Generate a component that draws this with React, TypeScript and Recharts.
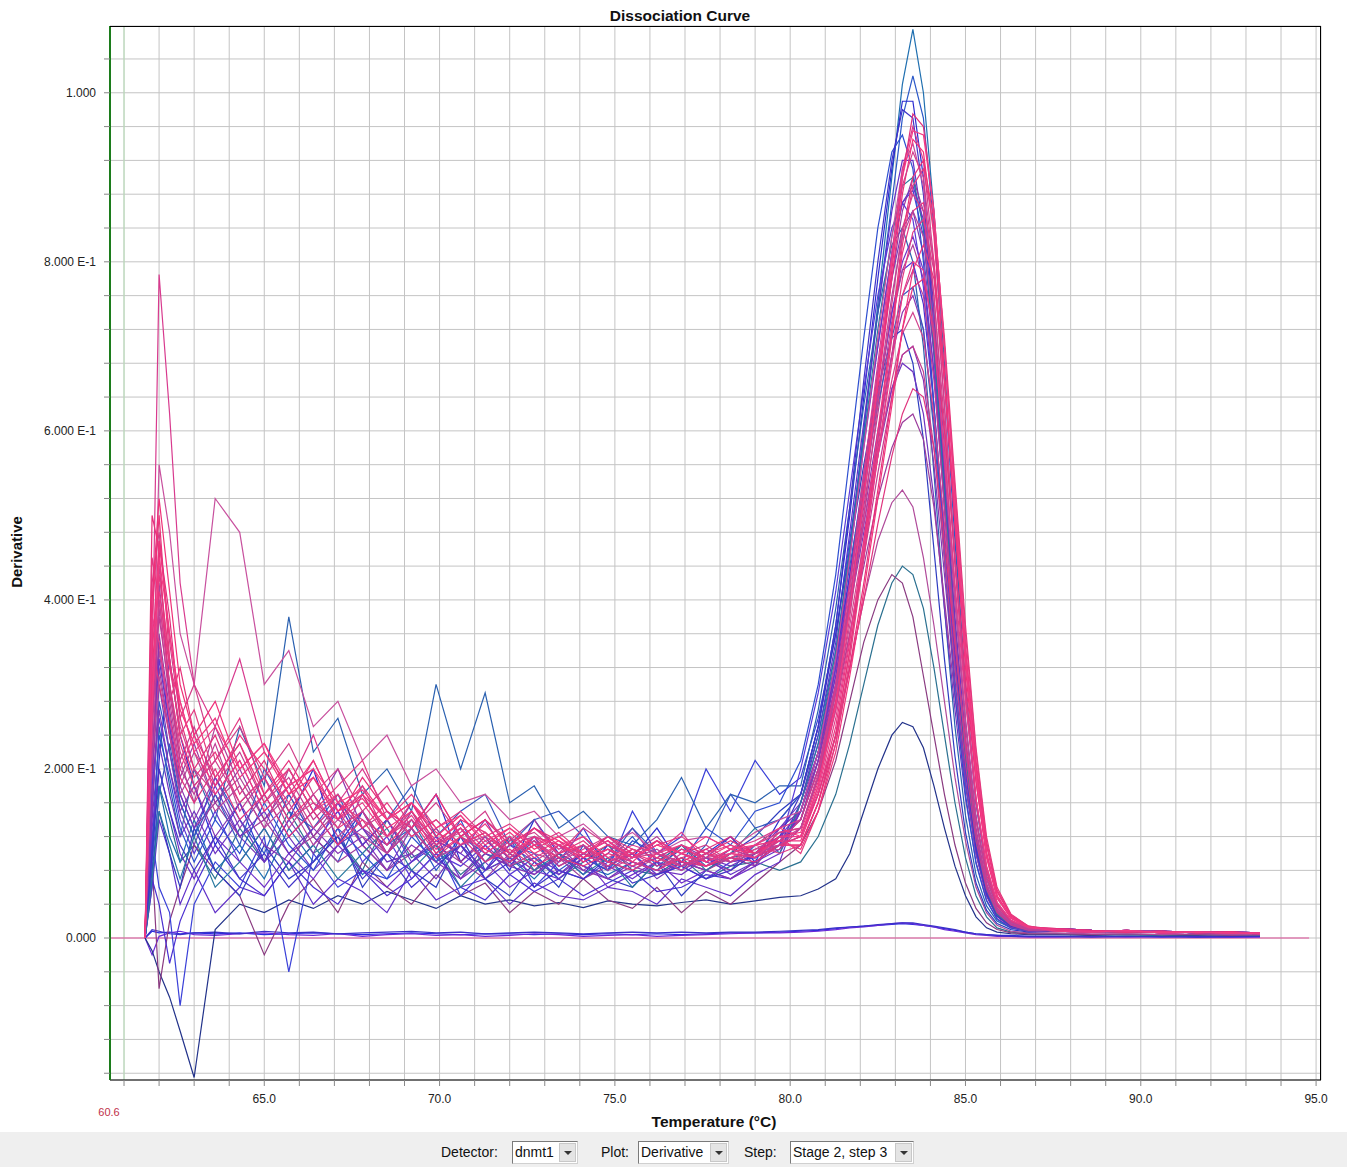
import { LineChart, Line, XAxis, YAxis, CartesianGrid, ReferenceLine } from 'recharts'

// temperature readings (°C)
const temps = [61.6, 61.8, 62.0, 62.3, 62.6, 63.0, 63.6, 64.3, 65.0, 65.7, 66.4, 67.1, 67.8, 68.5, 69.2, 69.9, 70.6, 71.3, 72.0, 72.7, 73.4, 74.1, 74.8, 75.5, 76.2, 76.9, 77.6, 78.3, 79.0, 79.7,
  80.3, 80.8, 81.3, 81.7, 82.1, 82.5, 82.9, 83.2, 83.5, 83.8, 84.1, 84.4, 84.7, 85.0, 85.3, 85.6, 85.9, 86.3, 86.8,
  87.6, 88.6, 89.6, 90.6, 91.6, 92.6, 93.4]

// derivative per well, x1000
const w01 = [0,8,6,7,5,6,5,6,4,5,6,5,4,5,6,5,4,5,5,4,5,4,5,4,5,4,5,6,6,7, 8,9,11,13,14,15,16,17,16,15,13,11,9,7,5,4,3,3,2, 2,2,2,1,2,1,2]
const w02 = [0,-20,2,6,8,4,3,5,6,4,3,5,2,4,5,3,4,2,3,5,4,2,3,4,2,3,4,5,6,6, 7,8,10,12,13,15,17,18,17,15,13,10,8,6,4,3,2,2,1, 1,2,1,2,1,1,1]
const w03 = [0,10,8,5,4,6,7,5,8,6,7,5,6,7,8,6,7,5,6,7,6,5,6,7,6,7,6,7,7,8, 9,10,12,13,14,16,17,18,18,16,14,12,10,7,5,4,3,2,2, 2,1,2,2,1,2,2]
const w04 = [0,-15,-40,-70,-110,-165,10,40,30,45,35,50,40,55,45,35,50,40,45,38,42,36,44,40,38,42,45,40,44,48, 50,58,70,100,150,200,240,255,250,225,180,130,85,50,25,12,7,5,4, 4,3,4,3,3,4,3]
const w05 = [0,120,180,140,90,110,70,130,90,150,100,120,80,140,95,110,75,100,85,95,70,90,110,80,75,95,70,85,90,80, 90,120,170,230,300,370,420,440,430,390,320,240,160,95,50,25,12,7,5, 5,4,4,3,4,3,3]
const w06 = [0,90,-60,20,60,110,80,50,-20,40,70,30,90,60,40,75,50,65,30,55,40,70,45,35,60,30,55,40,65,90, 110,150,210,280,350,400,430,420,380,310,240,170,110,65,35,18,10,6,5, 5,4,5,4,4,3,4]
const w07 = [0,200,340,250,180,220,160,190,140,170,120,150,110,140,100,130,90,115,95,110,85,100,90,80,95,85,100,90,95,110, 120,170,240,320,400,470,515,530,510,450,370,280,190,115,60,30,15,8,6, 6,5,5,4,5,4,4]
const w08 = [0,60,180,120,90,140,80,110,70,130,90,120,75,100,140,90,110,80,95,70,100,85,75,90,80,110,85,95,100,120, 140,210,320,450,600,750,900,1010,1075,1000,860,680,480,300,160,80,40,20,12, 9,8,7,8,6,7,5]
const w09 = [0,150,280,220,160,120,190,140,100,170,120,90,150,110,130,80,120,100,90,115,80,100,90,120,85,105,95,80,110,130, 150,220,330,460,600,740,870,970,1020,970,840,660,470,290,160,80,40,20,12, 10,8,8,7,7,6,6]
const w10 = [0,90,210,330,240,180,110,160,90,140,200,110,150,100,130,170,90,120,80,140,100,75,110,95,130,85,100,120,90,140, 170,250,370,500,640,780,910,990,990,900,740,550,370,220,115,55,28,15,10, 8,7,9,6,7,6,5]
const w11 = [0,60,140,100,40,80,30,60,50,90,40,70,55,30,80,45,60,70,40,65,50,45,60,55,40,70,60,50,75,90, 160,240,350,480,610,740,860,920,920,840,690,510,340,200,105,52,26,14,9, 11,9,8,8,7,7,6]
const w12 = [0,120,60,30,-80,40,90,60,120,-40,100,60,80,70,90,110,50,80,120,60,90,130,80,150,100,120,200,150,210,170, 190,260,360,470,590,700,810,870,885,830,700,540,370,225,120,60,30,16,10, 9,8,7,8,6,7,5]
const w13 = [0,100,250,180,120,200,140,250,180,380,220,260,170,200,150,300,200,290,160,180,130,150,120,110,140,190,130,170,160,180, 180,270,390,510,630,740,820,840,800,700,550,390,250,145,75,38,20,12,8, 10,8,8,7,7,6,6]
const w14 = [0,150,300,220,150,110,170,120,90,140,100,160,110,80,130,95,70,110,85,120,75,95,80,100,70,90,85,105,95,120, 150,220,320,430,550,670,780,840,860,810,690,530,370,230,125,62,31,16,10, 8,7,9,6,7,6,5]
const w15 = [0,70,40,-30,20,60,110,70,50,90,60,40,80,50,70,100,60,45,75,55,70,50,65,80,55,60,75,70,90,110, 160,230,330,430,540,640,740,790,800,750,630,480,330,205,110,55,28,14,9, 11,9,8,8,7,7,6]
const w16 = [0,200,360,270,190,230,160,200,140,180,120,160,130,100,150,110,90,120,100,80,110,90,105,85,95,110,90,80,100,115, 140,210,310,420,540,660,780,860,900,860,740,580,410,260,145,72,36,18,11, 9,8,7,8,6,7,5]
const w17 = [0,220,350,260,180,140,190,130,170,120,150,200,130,110,160,120,100,140,90,120,110,80,100,130,90,110,95,120,85,130, 150,210,300,400,500,600,690,740,760,720,610,470,330,210,115,58,30,15,9, 10,8,8,7,7,6,6]
const w18 = [0,80,150,100,60,130,80,50,110,70,90,130,60,100,80,60,120,70,50,90,60,110,70,60,90,50,80,100,120,150, 170,250,360,460,560,650,710,720,680,590,460,330,215,125,65,33,17,10,7, 8,7,9,6,7,6,5]
const w19 = [0,140,230,170,120,150,100,140,90,120,80,110,130,90,100,70,110,80,95,75,100,85,70,90,80,75,95,85,100,130, 160,220,310,400,490,580,650,680,670,620,520,390,270,165,90,45,23,12,8, 11,9,8,8,7,7,6]
const w20 = [0,180,320,240,170,130,160,120,140,100,120,90,110,80,100,130,90,70,100,80,95,70,85,100,75,90,80,95,85,120, 140,200,280,360,440,520,580,610,620,590,510,400,285,180,100,50,26,13,8, 9,8,7,8,6,7,5]
const w21 = [0,180,420,300,210,160,250,180,130,200,150,110,170,120,150,100,130,90,115,140,95,110,85,100,120,90,80,95,105,120, 140,200,300,400,510,620,730,790,820,780,670,520,370,235,130,65,33,17,10, 10,8,8,7,7,6,6]
const w22 = [0,260,560,480,360,300,520,480,300,340,250,280,210,240,180,200,160,170,140,150,120,135,110,125,100,115,120,105,125,140, 150,220,330,450,580,710,830,910,940,890,760,590,410,255,140,70,35,18,11, 8,7,9,6,7,6,5]
const w23 = [0,260,380,290,210,250,180,220,160,190,140,170,130,150,120,140,110,125,100,115,95,110,90,100,85,95,105,90,100,105, 130,190,270,360,450,550,640,690,700,670,580,450,320,205,115,58,30,15,9, 11,9,8,8,7,7,6]
const w24 = [0,420,480,350,260,300,210,250,190,230,170,200,150,180,130,160,120,140,115,125,100,130,110,95,115,100,110,90,105,110, 120,180,270,380,500,630,750,840,880,860,760,610,440,290,165,85,42,21,12, 9,8,7,8,6,7,5]
const w25 = [0,300,440,320,250,200,170,210,150,180,130,160,140,120,150,110,130,100,120,90,110,100,85,105,95,80,100,90,110,115, 130,190,280,370,470,570,660,715,740,710,620,490,350,225,125,63,32,16,10, 10,8,8,7,7,6,6]
const w26 = [0,320,785,620,420,300,250,330,220,180,240,160,200,150,130,170,120,140,110,130,105,120,95,110,100,125,90,105,115,130, 140,200,300,420,550,680,810,910,960,920,800,630,450,285,160,80,40,20,12, 8,7,9,6,7,6,5]
const w27 = [0,450,400,300,230,180,210,260,170,200,150,180,210,140,170,130,150,120,135,110,125,100,115,95,110,120,100,95,110,100, 110,160,240,340,450,570,690,780,835,850,790,660,500,340,205,110,55,26,13, 11,9,8,8,7,7,6]
const w28 = [0,350,300,240,190,160,200,140,170,120,150,110,140,100,130,95,120,90,105,85,100,115,90,80,100,90,85,95,90,110, 120,170,240,320,400,490,570,620,650,640,580,470,350,235,140,75,38,19,11, 9,8,7,8,6,7,5]
const w29 = [0,500,460,280,320,240,190,230,170,210,160,140,190,150,130,170,120,140,110,130,115,100,120,105,95,110,100,115,100,110, 110,160,230,320,420,530,640,720,770,780,720,600,450,305,185,100,50,24,13, 10,8,8,7,7,6,6]
const w30 = [0,380,500,330,240,190,220,160,190,140,170,130,150,110,140,100,120,105,90,110,95,85,100,90,80,95,85,100,95,110, 110,160,240,340,460,590,720,830,900,920,850,710,540,370,225,120,60,28,14, 8,7,9,6,7,6,5]
const w31 = [0,240,470,380,260,200,240,170,210,150,190,140,170,120,160,110,140,125,100,130,110,95,120,100,115,90,105,120,100,125, 130,190,290,400,530,660,790,900,975,960,860,700,520,340,200,100,50,24,13, 11,9,8,8,7,7,6]
const w32 = [0,400,520,410,300,240,280,200,230,170,210,150,180,140,160,120,145,110,130,105,120,95,110,100,90,105,95,110,100,120, 125,185,280,395,520,650,780,880,945,930,830,670,490,320,185,95,47,23,13, 9,8,7,8,6,7,5]
const w33 = [0,180,260,200,140,100,150,90,130,80,110,150,90,120,70,100,85,110,75,95,80,70,90,100,75,85,70,90,95,110, 200,290,410,530,650,760,840,870,850,770,630,470,320,195,105,52,27,14,9, 9,8,7,8,6,7,5]
const w34 = [0,300,430,330,240,270,190,230,160,200,150,170,130,160,120,140,110,125,95,120,100,110,90,105,95,85,100,110,95,120, 100,150,230,330,450,580,710,820,890,910,840,700,530,360,220,115,57,27,14, 10,8,8,7,7,6,6]
const w35 = [0,110,240,190,130,90,140,100,160,110,80,130,100,70,120,90,140,80,110,100,70,95,80,115,100,90,130,110,150,160, 210,300,430,570,710,840,930,950,910,800,630,450,290,170,88,44,22,12,8, 11,9,8,8,7,7,6]
const w36 = [0,240,390,280,200,170,230,150,190,130,170,120,150,100,140,110,130,90,110,120,85,100,115,90,80,100,90,105,95,115, 140,200,290,390,490,590,690,760,790,760,660,510,360,225,125,62,31,16,10, 8,7,9,6,7,6,5]
const w37 = [0,130,200,150,100,70,120,90,60,100,70,110,80,60,90,120,70,90,60,80,70,95,60,75,90,65,80,70,85,100, 150,220,320,420,530,640,740,800,830,790,670,510,355,220,120,60,30,15,9, 9,8,7,8,6,7,5]
const w38 = [0,360,410,320,280,220,180,240,200,160,210,150,170,140,160,125,110,135,100,120,110,95,105,90,115,100,85,100,110,115, 115,170,250,350,470,600,720,810,860,870,800,660,490,330,195,100,50,24,13, 10,8,8,7,7,6,6]
const w39 = [0,90,170,230,160,120,170,110,200,150,130,170,110,140,180,120,150,170,110,140,150,120,90,130,100,80,110,170,130,140, 170,240,340,440,540,630,710,760,770,720,600,450,305,185,100,50,26,13,8, 11,9,8,8,7,7,6]
const w40 = [0,280,400,300,220,180,210,160,190,140,160,130,180,120,140,110,125,150,100,115,90,105,120,95,100,85,95,100,110,125, 130,195,295,410,540,670,800,890,930,900,790,630,450,290,165,82,41,20,12, 8,7,9,6,7,6,5]
const w41 = [0,160,270,200,150,180,120,160,110,90,130,100,120,80,110,90,70,100,85,75,95,80,70,85,75,90,80,70,90,110, 150,210,300,390,480,570,650,690,700,660,560,430,300,185,100,50,26,13,8, 9,8,7,8,6,7,5]
const w42 = [0,330,470,360,270,230,260,190,220,170,190,150,165,130,150,115,135,105,125,100,115,90,105,95,110,100,90,105,100,115, 105,150,220,310,410,520,630,720,790,820,780,660,500,345,210,110,55,26,13, 10,8,8,7,7,6,6]
const w43 = [0,100,200,150,110,80,120,70,100,60,90,120,70,100,60,85,110,70,90,60,80,70,95,65,75,85,70,80,100,120, 170,250,370,510,660,800,920,980,970,880,720,530,350,205,105,52,26,14,9, 11,9,8,8,7,7,6]
const w44 = [0,210,310,240,170,200,150,180,130,160,110,140,120,100,130,95,110,120,85,100,90,110,80,95,105,85,95,90,100,110, 130,190,290,400,520,640,760,830,860,830,720,560,395,250,140,70,35,18,11, 8,7,9,6,7,6,5]
const w45 = [0,70,150,110,70,120,60,90,130,80,110,70,100,130,80,110,60,90,120,80,100,75,95,60,90,110,80,100,130,100, 160,230,340,460,590,720,830,890,900,840,700,530,360,215,115,57,28,15,9, 9,8,7,8,6,7,5]
const w46 = [0,380,350,260,200,240,170,210,150,180,200,140,160,120,145,105,130,100,120,95,110,120,95,85,100,110,90,100,95,120, 120,175,260,355,460,570,680,760,800,790,710,570,420,280,165,85,42,21,12, 10,8,8,7,7,6,6]
const w47 = [0,200,330,250,170,130,180,120,150,100,130,160,110,140,90,115,100,80,110,90,75,100,85,70,90,80,95,75,90,105, 150,220,330,450,580,700,810,870,890,850,720,550,380,235,125,62,31,16,10, 11,9,8,8,7,7,6]
const w48 = [0,270,450,360,280,220,250,200,230,180,200,160,175,140,160,130,145,115,130,110,120,100,115,95,110,100,120,105,110,130, 120,180,275,390,520,660,800,900,955,950,860,700,515,335,195,98,49,24,13, 8,7,9,6,7,6,5]

// drawing order: controls and blue/purple wells first, pink wells on top
const wells = [w01, w02, w03, w04, w05, w06, w07, w08, w09, w10, w11, w12, w13, w14, w15, w16,
  w17, w18, w19, w20, w21, w33, w35, w37, w39, w41, w43, w45, w47,
  w22, w23, w24, w25, w26, w27, w28, w29, w30, w31, w32, w34, w36, w38, w40, w42, w44, w46, w48]

const wellColors = ['#2b2be0', '#6a28d8', '#3a30c8', '#22328a', '#2a7090', '#8a3a80', '#b04a9a', '#1f6fb0',
  '#2a58c8', '#2b2bd0', '#6030c8', '#3a40d8', '#2a60b0', '#7a3cb8', '#4a2ed0', '#9a3aa0',
  '#8c36b0', '#2e3cc0', '#6e34c0', '#9c3c9c', '#b0409a', '#5a3ad8', '#2d4fd0', '#7030c8', '#3658c0', '#8436b4', '#4034c8', '#2a7aa0', '#6634c8',
  '#c8509e', '#c23c90', '#d0408a', '#d2448e', '#d83a8e', '#e23a84', '#e0347e', '#e6307a', '#e8347a', '#e0307c', '#f03078',
  '#e33b80', '#c03e96', '#ea3580', '#d23f8c', '#f0347c', '#b8449a', '#e83a88', '#f23a84']

const xTicks = [61, 62, 63, 64, 65, 66, 67, 68, 69, 70, 71, 72, 73, 74, 75, 76, 77, 78, 79, 80,
  81, 82, 83, 84, 85, 86, 87, 88, 89, 90, 91, 92, 93, 94, 95]
const xTickLabels: Record<number, string> = { 65: '65.0', 70: '70.0', 75: '75.0', 80: '80.0', 85: '85.0', 90: '90.0', 95: '95.0' }

const yTicks = [-0.16, -0.12, -0.08, -0.04, 0, 0.04, 0.08, 0.12, 0.16, 0.2, 0.24, 0.28, 0.32, 0.36, 0.4, 0.44,
  0.48, 0.52, 0.56, 0.6, 0.64, 0.68, 0.72, 0.76, 0.8, 0.84, 0.88, 0.92, 0.96, 1, 1.04]
const yTickLabels: Record<string, string> = { '0.00': '0.000', '0.20': '2.000 E-1', '0.40': '4.000 E-1', '0.60': '6.000 E-1', '0.80': '8.000 E-1', '1.00': '1.000' }

const rows = temps.map((t, i) => {
  const r: Record<string, number> = { t }
  wells.forEach((w, k) => { r['w' + k] = w[i] / 1000 })
  return r
})

const font = '"Liberation Sans", Arial, sans-serif'

function Dropdown({ left, width, text }: { left: number; width: number; text: string }) {
  return (
    <div style={{ position: 'absolute', left, top: 9, width, height: 23, boxSizing: 'border-box', border: '1px solid #7a7a7a', borderRightColor: '#d0d0d0', borderBottomColor: '#d0d0d0', background: '#fff' }}>
      <span style={{ position: 'absolute', left: 2, top: 2, fontSize: 14, color: '#111', whiteSpace: 'nowrap' }}>{text}</span>
      <div style={{ position: 'absolute', right: 1, top: 1, width: 17, height: 19, background: '#e4e4e4', border: '1px solid #c8c8c8', boxSizing: 'border-box', display: 'flex', alignItems: 'center', justifyContent: 'center' }}>
        <div style={{ width: 0, height: 0, borderLeft: '4px solid transparent', borderRight: '4px solid transparent', borderTop: '4px solid #333' }} />
      </div>
    </div>
  )
}

export default function App() {
  return (
    <div style={{ position: 'relative', width: 1347, height: 1167, background: '#fff', fontFamily: font, overflow: 'hidden' }}>
      <style>{'body{margin:0}'}</style>
      <LineChart width={1347} height={1132} data={rows} margin={{ top: 26, right: 26, left: 10, bottom: 12 }}>
        <CartesianGrid stroke="#c4c4c4" strokeWidth={1} />
        <XAxis type="number" dataKey="t" domain={[60.6, 95.14]} ticks={xTicks} interval={0} allowDataOverflow height={40}
          axisLine={{ stroke: '#000' }} tickLine={{ stroke: '#888' }} tickSize={6} tickMargin={8}
          tick={{ fontSize: 12, fill: '#222', fontFamily: font }} tickFormatter={(v: number) => xTickLabels[v] ?? ''} />
        <YAxis type="number" domain={[-0.168, 1.079]} ticks={yTicks} interval={0} allowDataOverflow width={100}
          axisLine={{ stroke: '#1c7c1c', strokeWidth: 2 }} tickLine={{ stroke: '#888' }} tickSize={6} tickMargin={8}
          tick={{ fontSize: 12, fill: '#222', fontFamily: font }} tickFormatter={(v: number) => yTickLabels[v.toFixed(2)] ?? ''} />
        <ReferenceLine x={61} stroke="#b8e0b8" />
        <ReferenceLine segment={[{ x: 60.6, y: 0 }, { x: 94.8, y: 0 }]} stroke="#e0509a" />
        {wells.map((_, k) => (
          <Line key={k} type="linear" dataKey={'w' + k} stroke={wellColors[k]} strokeWidth={1.2} dot={false} isAnimationActive={false} />
        ))}
      </LineChart>

      <div style={{ position: 'absolute', left: 110, top: 26, width: 1211, height: 1054, boxSizing: 'border-box', borderTop: '1px solid #000', borderRight: '1px solid #000', pointerEvents: 'none' }} />

      <div style={{ position: 'absolute', left: 680, top: 7, transform: 'translateX(-50%)', fontSize: 15.5, fontWeight: 700, color: '#111', whiteSpace: 'nowrap' }}>Dissociation Curve</div>
      <div style={{ position: 'absolute', left: 16, top: 552, transform: 'translate(-50%, -50%) rotate(-90deg)', fontSize: 15, fontWeight: 700, color: '#111', whiteSpace: 'nowrap' }}>Derivative</div>
      <div style={{ position: 'absolute', left: 714, top: 1113, transform: 'translateX(-50%)', fontSize: 15.5, fontWeight: 700, color: '#111', whiteSpace: 'nowrap' }}>Temperature (°C)</div>
      <div style={{ position: 'absolute', left: 109, top: 1106, transform: 'translateX(-50%)', fontSize: 11, color: '#c0304a' }}>60.6</div>

      <div style={{ position: 'absolute', left: 0, top: 1132, width: 1347, height: 35, background: '#efefef', fontSize: 14, color: '#111' }}>
        <span style={{ position: 'absolute', left: 441, top: 12 }}>Detector:</span>
        <Dropdown left={512} width={66} text="dnmt1" />
        <span style={{ position: 'absolute', left: 601, top: 12 }}>Plot:</span>
        <Dropdown left={638} width={91} text="Derivative" />
        <span style={{ position: 'absolute', left: 744, top: 12 }}>Step:</span>
        <Dropdown left={790} width={124} text="Stage 2, step 3" />
      </div>
    </div>
  )
}
